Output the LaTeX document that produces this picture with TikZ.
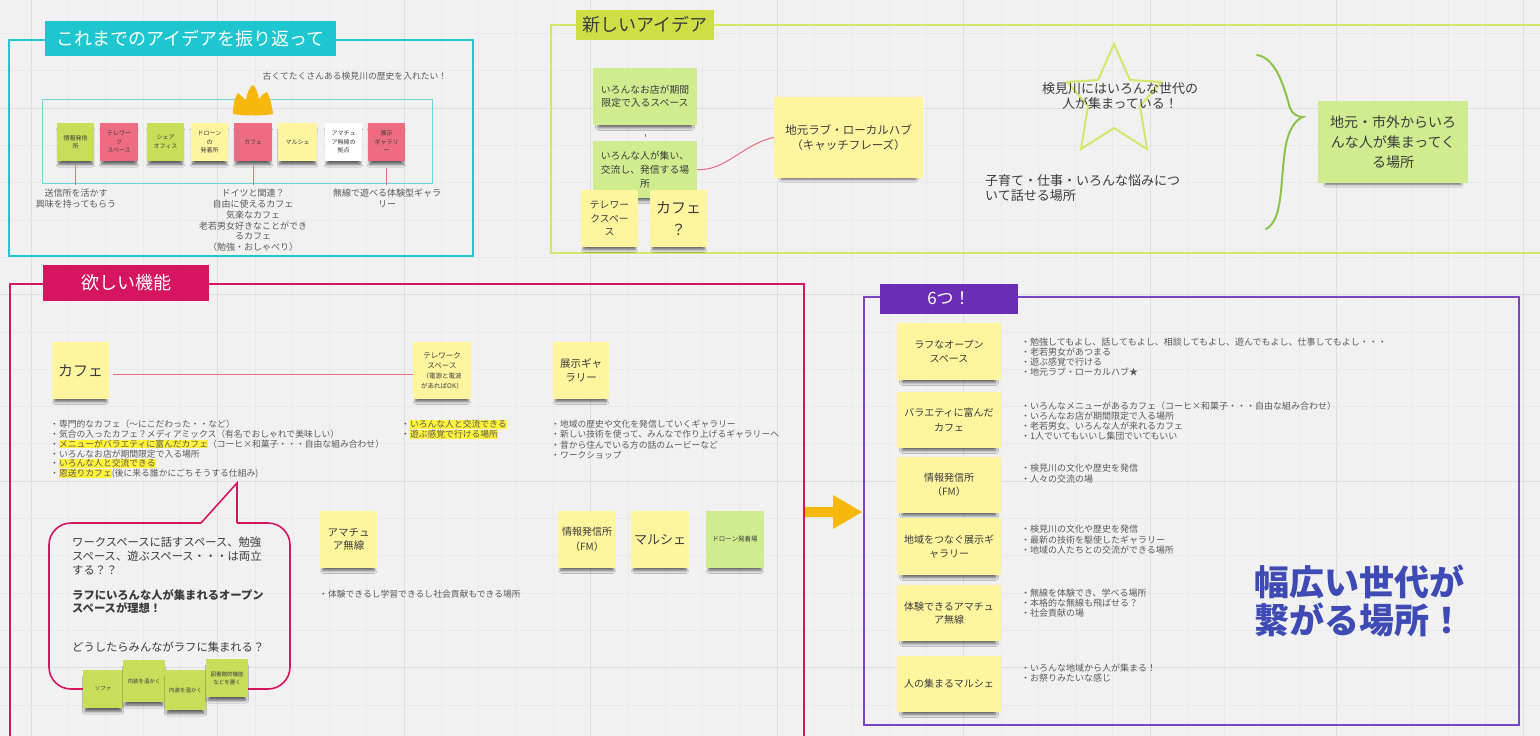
\documentclass[tikz,border=0pt]{standalone}
\usepackage{fontspec}
\setmainfont{Noto Sans CJK JP}
\usetikzlibrary{shadows.blur}
\definecolor{bgc}{HTML}{F1F1F1}
\definecolor{gridmin}{HTML}{E9E9E9}
\definecolor{gridmaj}{HTML}{DFDFDF}
\definecolor{cyanf}{HTML}{1EC6CF}
\definecolor{cyanl}{HTML}{6CD6DC}
\definecolor{limef}{HTML}{CEDF45}
\definecolor{limel}{HTML}{D6E66A}
\definecolor{magf}{HTML}{D6145F}
\definecolor{purf}{HTML}{6A2DB8}
\definecolor{purl}{HTML}{7C45C6}
\definecolor{ylw}{HTML}{FFF59F}
\definecolor{limen}{HTML}{C8DD5A}
\definecolor{lgreen}{HTML}{CFEC8E}
\definecolor{pinkn}{HTML}{EE6C82}
\definecolor{txt}{HTML}{3C3C3C}
\definecolor{txtg}{HTML}{5A5A5A}
\definecolor{hly}{HTML}{FFF23A}
\definecolor{redc}{HTML}{E8707A}
\definecolor{orng}{HTML}{F6B80C}
\definecolor{bracec}{HTML}{8CC34B}
\definecolor{indigo}{HTML}{3E4BB4}
\newcommand\fsz[2]{\fontsize{#1}{#2}\selectfont}
\newcommand\hlt[1]{{\setlength{\fboxsep}{0pt}\colorbox{hly}{\rule[-0.13em]{0pt}{1em}#1}}}
\newcommand\snote[9]{\node[sticky, fill=#6, minimum width={#4-#2}, minimum height={#5-#3}, font=\fsz{#7}{#8}] (#1) at ({(#2+#4)/2},{(#3+#5)/2}) {#9};}
\tikzset{
  sticky/.style={inner sep=0pt, align=center, text=txt,
    blur shadow={shadow xshift=0pt, shadow yshift=-6pt, shadow scale=0.9, shadow blur radius=3pt, shadow blur steps=6, shadow opacity=60}},
  lbl/.style={inner sep=0pt, text=txtg, align=left},
  titlebox/.style={inner sep=0pt, align=center},
  gmin/.style={draw=gridmin, line width=0.5pt},
  gmaj/.style={draw=gridmaj, line width=0.8pt},
  redcon/.style={draw=redc, line width=1pt},
}
\begin{document}
\begin{tikzpicture}[x=1pt,y=-1pt]
\useasboundingbox (0,0) rectangle (1540,736);
\clip (0,0) rectangle (1540,736);
\fill[bgc] (0,0) rectangle (1540,736);
% grid
\foreach \i in {0,...,42} \draw[gmin] ({31+37.3*(\i-1)},0) -- ({31+37.3*(\i-1)},736);
\foreach \i in {-3,...,17} \draw[gmin] (0,{108+37.3*\i}) -- (1540,{108+37.3*\i});
\foreach \i in {0,...,8} \draw[gmaj] ({31+186.5*\i},0) -- ({31+186.5*\i},736);
\foreach \i in {-1,...,3} \draw[gmaj] (0,{108+186.5*\i}) -- (1540,{108+186.5*\i});

% ===== Frame 1 =====
\draw[cyanf, line width=2pt] (9,40) rectangle (473,256);
\node[titlebox, fill=cyanf, text=white, minimum width=291, minimum height=35, font=\fsz{18}{20}] (title1) at (190.5,38.5) {これまでのアイデアを振り返って};
\draw[cyanl, line width=1pt] (42,99) rectangle (432,183);
\fill[orng] (233,114) .. controls (233,105) and (235,96) .. (238,93)
  .. controls (241,95) and (244,99) .. (246,100)
  .. controls (247,93) and (250,86) .. (253,85)
  .. controls (256,87) and (258,94) .. (259,99)
  .. controls (261,96) and (264,93) .. (267,92)
  .. controls (270,97) and (272,106) .. (273,114)
  .. controls (262,116) and (244,116) .. (233,114) -- cycle;
\node[lbl, font=\fsz{8.8}{10}] (hist) at (355,76) {古くてたくさんある検見川の歴史を入れたい！};
\snote{fa}{57}{123}{94}{161}{limen}{6}{8.5}{情報発信\\所}
\snote{fb}{100}{123}{138}{161}{pinkn}{6}{8.5}{テレワー\\ク\\スペース}
\snote{fc}{147}{123}{184}{161}{limen}{6}{8.5}{シェア\\オフィス}
\snote{fd}{191}{123}{228}{161}{ylw}{6}{8.5}{ドローン\\の\\発着所}
\snote{fe}{234}{123}{272}{161}{pinkn}{6}{8.5}{カフェ}
\snote{ff}{278}{123}{317}{161}{ylw}{6}{8.5}{マルシェ}
\snote{fg}{325}{123}{362}{161}{white}{6}{8.5}{アマチュ\\ア無線の\\拠点}
\snote{fh}{368}{123}{405}{161}{pinkn}{6}{8.5}{展示\\ギャラリ\\ー}
\coordinate (tk) at (0,185);
\draw[redcon, shorten <=2pt] (fa.south) -- (fa.south |- tk);
\draw[redcon, shorten <=2pt] (fe.south) -- (fe.south |- tk);
\draw[redcon, shorten <=7pt] (fh.south) -- (fh.south |- tk);
\node[lbl, align=center, anchor=north, font=\fsz{9}{11}] (u1) at (76,189) {送信所を活かす\\興味を持ってもらう};
\node[lbl, align=center, anchor=north, font=\fsz{9}{10.8}] (u2) at (253,189) {ドイツと関連？\\自由に使えるカフェ\\気楽なカフェ\\老若男女好きなことができ\\るカフェ\\（勉強・おしゃべり）};
\node[lbl, align=center, anchor=north, font=\fsz{9}{11}] (u3) at (387,189) {無線で遊べる体験型ギャラ\\リー};

% ===== Frame 2 =====
\draw[limel, line width=2pt] (1545,25) -- (551,25) -- (551,253) -- (1545,253);
\node[titlebox, fill=limef, text=txt, minimum width=138, minimum height=30, font=\fsz{18}{20}] (title2) at (645,25) {新しいアイデア};
\snote{ia}{593}{68}{697}{125}{lgreen}{9.8}{12.5}{いろんなお店が期間\\限定で入るスペース}
\snote{ib}{593}{141}{697}{198}{lgreen}{9.8}{14}{いろんな人が集い、\\交流し、発信する場\\所}
\draw[draw=gray, line width=0.8pt, shorten <=9pt, shorten >=4pt] (ia.south) -- (ib.north);
\snote{ie}{774}{97}{923}{178}{ylw}{11.5}{15}{地元ラブ・ローカルハブ\\（キャッチフレーズ）}
\draw[redcon] (ib.east) .. controls +(28,2) and +(-30,6) .. (ie.west);
\snote{ic}{581}{190}{638}{247}{ylw}{9.8}{13.5}{テレワー\\クスペー\\ス}
\snote{id}{650}{190}{707}{247}{ylw}{15}{22}{カフェ\\？}
\draw[limel, line width=2pt, line join=miter] (1114,44) -- (1130,80) -- (1161,82) -- (1140,106) -- (1147,149) -- (1114,128) -- (1081,149) -- (1088,106) -- (1067,82) -- (1098,80) -- cycle;
\node[lbl, align=center, text=txt, font=\fsz{13}{15}] (startxt) at (1120,96.5) {検見川にはいろんな世代の\\人が集まっている！};
\node[lbl, anchor=west, text=txt, font=\fsz{13}{15}] (kosodate) at (985,188.5) {子育て・仕事・いろんな悩みにつ\\いて話せる場所};
\draw[bracec, line width=2pt, line cap=round] (1257,55) .. controls (1278,58) and (1286,95) .. (1290,108)
  .. controls (1292,114) and (1298,117) .. (1303,117)
  .. controls (1295,120) and (1288,130) .. (1285,150)
  .. controls (1280,185) and (1283,220) .. (1266,229);
\snote{ig}{1318}{101}{1468}{183}{lgreen}{14}{20}{地元・市外からいろ\\んな人が集まってく\\る場所}

% ===== Frame 3 =====
\draw[magf, line width=2pt] (10,745) -- (10,284) -- (804,284) -- (804,745);
\node[titlebox, fill=magf, text=white, minimum width=166, minimum height=36, font=\fsz{18}{20}] (title3) at (126,283) {欲しい機能};
\snote{cafe}{52}{342}{109}{399}{ylw}{15}{18}{カフェ}
\snote{tw}{413}{342}{471}{399}{ylw}{7.5}{10}{テレワーク\\スペース\\{\fsz{6.5}{10}（電源と電波}\\{\fsz{6.5}{10}があればOK）}}
\draw[redcon, shorten <=4pt] ([yshift=-3.5pt]cafe.east) -- ([yshift=-3.5pt]tw.west);
\snote{gal}{553}{342}{609}{399}{ylw}{10.5}{14}{展示ギャ\\ラリー}
\node[lbl, anchor=north west, font=\fsz{8.8}{9.8}] (cafelist) at (50,420) {・専門的なカフェ（〜にこだわった・・など）\\・気合の入ったカフェ？メディアミックス（有名でおしゃれで美味しい）\\・\hlt{メニューがバラエティに富んだカフェ}（コーヒ×和菓子・・・自由な組み合わせ）\\・いろんなお店が期間限定で入る場所\\・\hlt{いろんな人と交流できる}\\・\hlt{恩送りカフェ}(後に来る誰かにごちそうする仕組み)};
\node[lbl, anchor=north west, font=\fsz{8.8}{9.8}] (twlist) at (401,420) {・\hlt{いろんな人と交流できる}\\・\hlt{遊ぶ感覚で行ける場所}};
\node[lbl, anchor=north west, font=\fsz{8.8}{10.2}] (gallist) at (551,420) {・地域の歴史や文化を発信していくギャラリー\\・新しい技術を使って、みんなで作り上げるギャラリーへ\\・昔から住んでいる方の話のムービーなど\\・ワークショップ};
% speech bubble
\draw[magf, line width=1.6pt, rounded corners=22pt] (201,523) -- (49,523) -- (49,689) -- (290,689) -- (290,523) -- (237,523);
\draw[magf, line width=1.6pt, line join=miter] (201,523) -- (237,483) -- (237,523);
\node[lbl, anchor=north west, text=txt, font=\fsz{11.3}{13.8}] (bubtxt) at (72,537) {ワークスペースに話すスペース、勉強\\スペース、遊ぶスペース・・・は両立\\する？？\\[11pt]\textbf{ラフにいろんな人が集まれるオープン}\\\textbf{スペースが理想！}\\[25pt]どうしたらみんながラフに集まれる？};
\snote{sa}{83}{670}{123}{708}{limen}{5.5}{8}{ソファ}
\snote{sb}{123}{660}{165}{702}{limen}{5.5}{8}{内装を温かく}
\snote{sc}{165}{670}{206}{710}{limen}{5.5}{8}{内装を温かく}
\snote{sd}{206}{659}{248}{697}{limen}{5.5}{8}{図書館的機能\\などを置く}
\snote{ham}{320}{511}{377}{568}{ylw}{10.5}{13}{アマチュ\\ア無線}
\node[lbl, anchor=north west, font=\fsz{8.8}{10}] (hamlist) at (319,590) {・体験できるし学習できるし社会貢献もできる場所};
\snote{fm}{558}{511}{616}{568}{ylw}{10}{15}{情報発信所\\（FM）}
\snote{mar}{631}{511}{689}{568}{ylw}{13}{16}{マルシェ}
\snote{dro}{706}{511}{764}{568}{lgreen}{6.5}{9}{ドローン発着場}
% big arrow
\fill[orng] (805,507) -- (833,507) -- (833,495) -- (862,512) -- (833,529) -- (833,517) -- (805,517) -- cycle;

% ===== Frame 4 =====
\draw[purl, line width=2pt] (864,297) rectangle (1519,725);
\node[titlebox, fill=purf, text=white, minimum width=138, minimum height=30, font=\fsz{17}{20}] (title4) at (949,298.5) {6つ！};
\snote{s1}{897}{323}{1001}{380}{ylw}{10}{13.5}{ラフなオープン\\スペース}
\snote{s2}{897}{392}{1001}{448}{ylw}{10}{15}{バラエティに富んだ\\カフェ}
\snote{s3}{897}{457}{1001}{513}{ylw}{10}{14}{情報発信所\\（FM）}
\snote{s4}{897}{518}{1001}{575}{ylw}{10}{13.5}{地域をつなぐ展示ギ\\ャラリー}
\snote{s5}{897}{585}{1001}{641}{ylw}{10}{13.5}{体験できるアマチュ\\ア無線}
\snote{s6}{897}{656}{1001}{712}{ylw}{10}{13.5}{人の集まるマルシェ}
\node[lbl, anchor=north west, font=\fsz{9}{10}] (l1) at (1021,338) {・勉強してもよし、話してもよし、相談してもよし、遊んでもよし、仕事してもよし・・・\\・老若男女があつまる\\・遊ぶ感覚で行ける\\・地元ラブ・ローカルハブ★};
\node[lbl, anchor=north west, font=\fsz{9}{10}] (l2) at (1021,402) {・いろんなメニューがあるカフェ（コーヒ×和菓子・・・自由な組み合わせ）\\・いろんなお店が期間限定で入る場所\\・老若男女、いろんな人が来れるカフェ\\・1人でいてもいいし集団でいてもいい};
\node[lbl, anchor=north west, font=\fsz{9}{10.5}] (l3) at (1021,464) {・検見川の文化や歴史を発信\\・人々の交流の場};
\node[lbl, anchor=north west, font=\fsz{9}{10.5}] (l4) at (1021,525) {・検見川の文化や歴史を発信\\・最新の技術を駆使したギャラリー\\・地域の人たちとの交流ができる場所};
\node[lbl, anchor=north west, font=\fsz{9}{10}] (l5) at (1021,589) {・無線を体験でき、学べる場所\\・本格的な無線も飛ばせる？\\・社会貢献の場};
\node[lbl, anchor=north west, font=\fsz{9}{10}] (l6) at (1021,664) {・いろんな地域から人が集まる！\\・お祭りみたいな感じ};
\node[inner sep=0pt, anchor=west, align=left, text=indigo, font=\fsz{35}{38}\bfseries] (slogan) at (1254,601) {幅広い世代が\\繋がる場所！};
\end{tikzpicture}
\end{document}
